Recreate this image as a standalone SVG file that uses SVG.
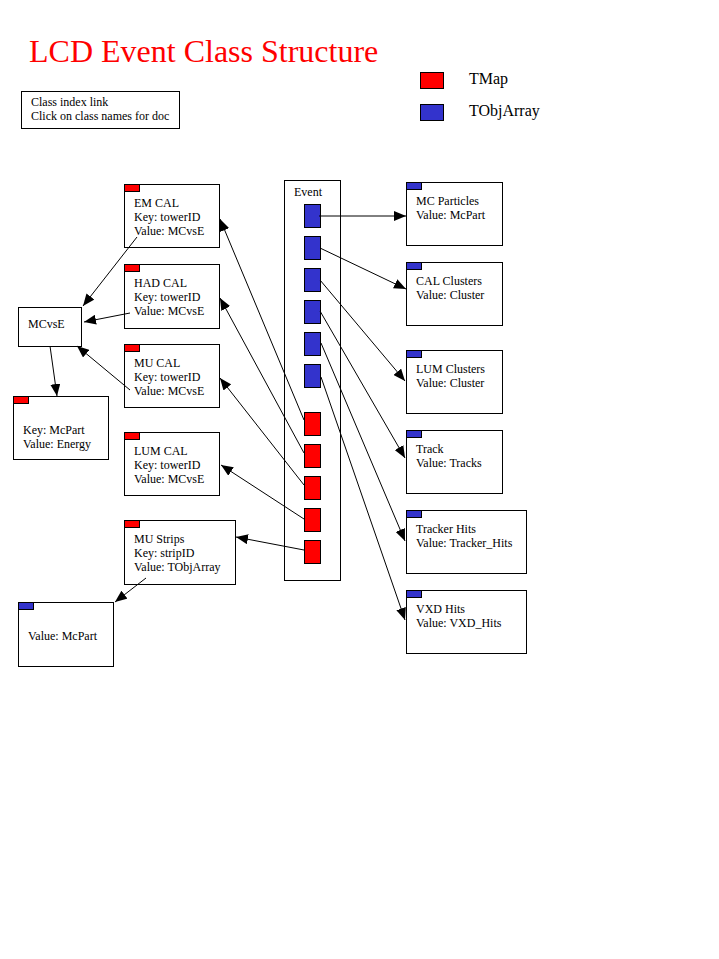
<svg xmlns="http://www.w3.org/2000/svg" width="719" height="959" viewBox="0 0 719 959">
<defs>
<marker id="ah" viewBox="0 0 12 10" refX="12" refY="5" markerWidth="12" markerHeight="10" markerUnits="userSpaceOnUse" orient="auto">
<path d="M0,0 L12,5 L0,10 Z" fill="#000"/>
</marker>
<style>
.box{fill:#fff;stroke:#000;stroke-width:1}
.red{fill:#ff0000;stroke:#000;stroke-width:1}
.blue{fill:#3333cc;stroke:#000;stroke-width:1}
.t{font-family:"Liberation Serif","Times New Roman",serif;font-size:12px;fill:#000}
.lg{font-family:"Liberation Serif","Times New Roman",serif;font-size:16px;fill:#000}
.c{stroke:#000;stroke-width:1;fill:none;marker-end:url(#ah)}
</style>
</defs>
<rect width="719" height="959" fill="#fff"/>
<text x="29" y="62" font-family="Liberation Serif, Times New Roman, serif" font-size="32" fill="#ff0000">LCD Event Class Structure</text>

<g id="classindex">
<rect class="box" x="21.5" y="91.5" width="158" height="37"/>
<text class="t" x="31" y="106">Class index link</text>
<text class="t" x="31" y="120">Click on class names for doc</text>
</g>

<g id="legend">
<rect class="red" x="420.5" y="72.5" width="23" height="16"/>
<text class="lg" x="469" y="84">TMap</text>
<rect class="blue" x="420.5" y="104.5" width="23" height="16"/>
<text class="lg" x="469" y="116">TObjArray</text>
</g>

<g id="event">
<rect class="box" x="284.5" y="180.5" width="56" height="400"/>
<text class="t" x="294" y="196">Event</text>
<rect class="blue" x="304.5" y="204.5" width="16" height="23"/>
<rect class="blue" x="304.5" y="236.5" width="16" height="23"/>
<rect class="blue" x="304.5" y="268.5" width="16" height="23"/>
<rect class="blue" x="304.5" y="300.5" width="16" height="23"/>
<rect class="blue" x="304.5" y="332.5" width="16" height="23"/>
<rect class="blue" x="304.5" y="364.5" width="16" height="23"/>
<rect class="red" x="304.5" y="412.5" width="16" height="23"/>
<rect class="red" x="304.5" y="444.5" width="16" height="23"/>
<rect class="red" x="304.5" y="476.5" width="16" height="23"/>
<rect class="red" x="304.5" y="508.5" width="16" height="23"/>
<rect class="red" x="304.5" y="540.5" width="16" height="23"/>
</g>

<g id="emcal">
<rect class="box" x="124.5" y="184.5" width="95" height="63"/>
<rect class="red" x="124.5" y="184.5" width="15" height="7"/>
<text class="t" x="134" y="207">EM CAL</text>
<text class="t" x="134" y="221">Key: towerID</text>
<text class="t" x="134" y="235">Value: MCvsE</text>
</g>
<g id="hadcal">
<rect class="box" x="124.5" y="264.5" width="95" height="64"/>
<rect class="red" x="124.5" y="264.5" width="15" height="7"/>
<text class="t" x="134" y="287">HAD CAL</text>
<text class="t" x="134" y="301">Key: towerID</text>
<text class="t" x="134" y="315">Value: MCvsE</text>
</g>
<g id="mucal">
<rect class="box" x="124.5" y="344.5" width="95" height="63"/>
<rect class="red" x="124.5" y="344.5" width="15" height="7"/>
<text class="t" x="134" y="367">MU CAL</text>
<text class="t" x="134" y="381">Key: towerID</text>
<text class="t" x="134" y="395">Value: MCvsE</text>
</g>
<g id="lumcal">
<rect class="box" x="124.5" y="432.5" width="95" height="63"/>
<rect class="red" x="124.5" y="432.5" width="15" height="7"/>
<text class="t" x="134" y="455">LUM CAL</text>
<text class="t" x="134" y="469">Key: towerID</text>
<text class="t" x="134" y="483">Value: MCvsE</text>
</g>
<g id="mustrips">
<rect class="box" x="124.5" y="520.5" width="111" height="64"/>
<rect class="red" x="124.5" y="520.5" width="15" height="7"/>
<text class="t" x="134" y="543">MU Strips</text>
<text class="t" x="134" y="557">Key: stripID</text>
<text class="t" x="134" y="571">Value: TObjArray</text>
</g>
<g id="mcvse">
<rect class="box" x="18.5" y="307.5" width="63" height="39"/>
<text class="t" x="28" y="328">MCvsE</text>
</g>
<g id="keymcpart">
<rect class="box" x="13.5" y="396.5" width="95" height="63"/>
<rect class="red" x="13.5" y="396.5" width="15" height="7"/>
<text class="t" x="23" y="434">Key: McPart</text>
<text class="t" x="23" y="448">Value: Energy</text>
</g>
<g id="valmcpart">
<rect class="box" x="18.5" y="602.5" width="95" height="64"/>
<rect class="blue" x="18.5" y="602.5" width="15" height="7"/>
<text class="t" x="28" y="640">Value: McPart</text>
</g>

<g id="mcparticles">
<rect class="box" x="406.5" y="182.5" width="96" height="63"/>
<rect class="blue" x="406.5" y="182.5" width="15" height="7"/>
<text class="t" x="416" y="205">MC Particles</text>
<text class="t" x="416" y="219">Value: McPart</text>
</g>
<g id="calclusters">
<rect class="box" x="406.5" y="262.5" width="96" height="63"/>
<rect class="blue" x="406.5" y="262.5" width="15" height="7"/>
<text class="t" x="416" y="285">CAL Clusters</text>
<text class="t" x="416" y="299">Value: Cluster</text>
</g>
<g id="lumclusters">
<rect class="box" x="406.5" y="350.5" width="96" height="63"/>
<rect class="blue" x="406.5" y="350.5" width="15" height="7"/>
<text class="t" x="416" y="373">LUM Clusters</text>
<text class="t" x="416" y="387">Value: Cluster</text>
</g>
<g id="track">
<rect class="box" x="406.5" y="430.5" width="96" height="63"/>
<rect class="blue" x="406.5" y="430.5" width="15" height="7"/>
<text class="t" x="416" y="453">Track</text>
<text class="t" x="416" y="467">Value: Tracks</text>
</g>
<g id="trackerhits">
<rect class="box" x="406.5" y="510.5" width="120" height="63"/>
<rect class="blue" x="406.5" y="510.5" width="15" height="7"/>
<text class="t" x="416" y="533">Tracker Hits</text>
<text class="t" x="416" y="547">Value: Tracker_Hits</text>
</g>
<g id="vxdhits">
<rect class="box" x="406.5" y="590.5" width="120" height="63"/>
<rect class="blue" x="406.5" y="590.5" width="15" height="7"/>
<text class="t" x="416" y="613">VXD Hits</text>
<text class="t" x="416" y="627">Value: VXD_Hits</text>
</g>

<g id="connectors">
<line class="c" x1="319" y1="216" x2="406" y2="216"/>
<line class="c" x1="320" y1="248" x2="406" y2="289"/>
<line class="c" x1="320" y1="280" x2="405" y2="381"/>
<line class="c" x1="320" y1="311" x2="405" y2="458"/>
<line class="c" x1="321" y1="343" x2="405" y2="541"/>
<line class="c" x1="321" y1="377" x2="405" y2="620"/>
<line class="c" x1="304" y1="420" x2="220" y2="219"/>
<line class="c" x1="304" y1="453" x2="220" y2="298"/>
<line class="c" x1="304" y1="485" x2="220" y2="378"/>
<line class="c" x1="304" y1="519" x2="221" y2="465"/>
<line class="c" x1="304" y1="550" x2="236" y2="537"/>
<line class="c" x1="137" y1="237" x2="83" y2="306"/>
<line class="c" x1="130" y1="313" x2="84" y2="322"/>
<line class="c" x1="130" y1="390" x2="77" y2="346"/>
<line class="c" x1="50" y1="346" x2="57" y2="396"/>
<line class="c" x1="146" y1="578" x2="115" y2="602"/>
</g>
</svg>
